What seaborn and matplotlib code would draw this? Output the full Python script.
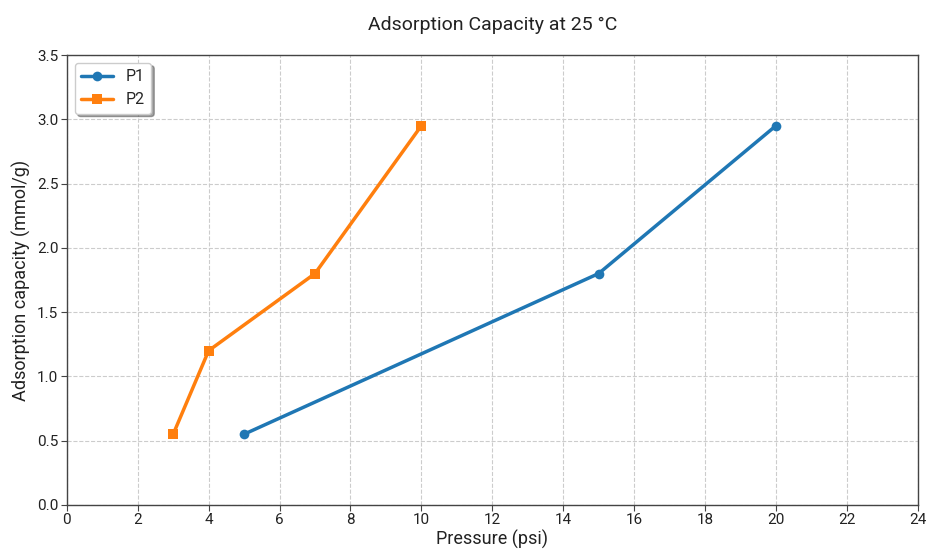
import pandas as pd
import seaborn as sns
import matplotlib.pyplot as plt

# Adsorption data
p1_pressure = [5, 15, 20]
p1_capacity = [0.55, 1.8, 2.95]
p2_pressure = [3, 4, 7, 10]
p2_capacity = [0.55, 1.2, 1.8, 2.95]

sns.set_theme(style="whitegrid")
plt.rcParams["font.family"] = ["Roboto", "DejaVu Sans"]

df = pd.concat([
    pd.DataFrame({"pressure": p1_pressure, "capacity": p1_capacity, "sample": "P1"}),
    pd.DataFrame({"pressure": p2_pressure, "capacity": p2_capacity, "sample": "P2"}),
])

fig = plt.figure(figsize=(9.28, 5.5), dpi=100)
ax = fig.add_axes([0.072, 0.082, 0.917, 0.818])

sns.lineplot(data=df, x="pressure", y="capacity", hue="sample", style="sample",
             markers={"P1": "o", "P2": "s"}, dashes=False,
             palette={"P1": "#1f77b4", "P2": "#ff7f0e"},
             linewidth=2.5, markersize=7, markeredgewidth=0, sort=False, ax=ax)

ax.set_xlim(0, 24)
ax.set_ylim(0, 3.5)
ax.set_xticks(range(0, 25, 2))
ax.set_yticks([i * 0.5 for i in range(8)])
ax.yaxis.set_major_formatter(plt.FormatStrFormatter("%.1f"))
ax.grid(True, linestyle="--", color="#cccccc", linewidth=0.8)
for s in ax.spines.values():
    s.set_color("#444444")
    s.set_linewidth(1.0)
ax.tick_params(axis="both", direction="out", length=4, width=0.8, color="#444444",
               labelsize=11, labelcolor="#222222", bottom=True, left=True, pad=2)

ax.set_xlabel("Pressure (psi)", fontsize=13, color="#222222", labelpad=2)
ax.set_ylabel("Adsorption capacity (mmol/g)", fontsize=13, color="#222222")
ax.set_title("Adsorption Capacity at 25 °C", fontsize=14, color="#222222", pad=18)

leg = ax.legend(loc="upper left", shadow=True, fancybox=True, fontsize=11.5,
                framealpha=1, edgecolor="#cccccc", title=None)

fig.savefig("out.png", dpi=100)
